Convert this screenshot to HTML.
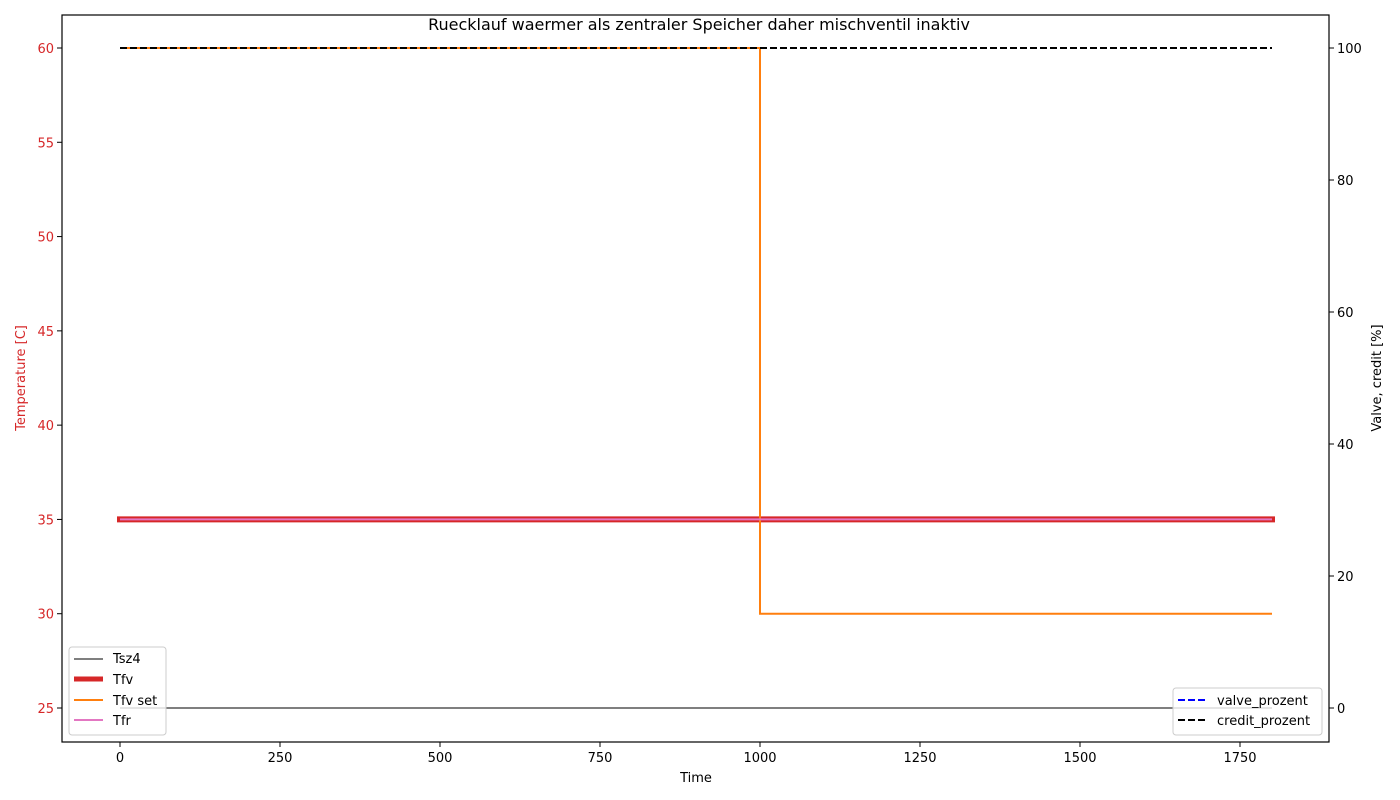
<!DOCTYPE html>
<html><head><meta charset="utf-8"><style>
html,body{margin:0;padding:0;background:#fff;}
svg{display:block;font-family:"DejaVu Sans","Liberation Sans",sans-serif;}
</style></head><body>
<svg id="chart" width="1400" height="800" viewBox="0 0 1400 800"></svg>
<script>
const timeSteps = [0, 1000, 1000, 1800];
const tsz4 = [25, 25, 25, 25];
const tfv = [35, 35, 35, 35];
const tfvSet = [60, 60, 30, 30];
const tfr = [35, 35, 35, 35];
const valvePct = [100, 100, 100, 100];
const creditPct = [100, 100, 100, 100];
const xTicks = [0, 250, 500, 750, 1000, 1250, 1500, 1750];
const yLeftTicks = [25, 30, 35, 40, 45, 50, 55, 60];
const yRightTicks = [0, 20, 40, 60, 80, 100];

const L = 62, R = 1329, T = 15, B = 742;
const sx = v => 120 + v * (1120 / 1750);
const syL = v => 708 - (v - 25) * (660 / 35);
const syR = v => 708 - v * 6.6;
const NS = "http://www.w3.org/2000/svg";
const svg = document.getElementById("chart");
function mk(tag, attrs, parent) {
  const e = document.createElementNS(NS, tag);
  for (const k in attrs) e.setAttribute(k, attrs[k]);
  (parent || svg).appendChild(e);
  return e;
}
function txt(s, attrs) { const e = mk("text", attrs); e.textContent = s; return e; }
function line(xs, ys, fy, style, name) {
  const pts = xs.map((x, i) => sx(x) + "," + fy(ys[i])).join(" ");
  const p = mk("polyline", Object.assign({points: pts, fill: "none"}, style));
  
  
}

line(timeSteps, tsz4, syL, {stroke: "#7f7f7f", "stroke-width": 2}, "tsz4-line");
line(timeSteps, tfv, syL, {stroke: "#d62728", "stroke-width": 6, "stroke-linecap": "square"}, "tfv-line");
line(timeSteps, tfvSet, syL, {stroke: "#ff7f0e", "stroke-width": 2}, "tfv-set-line");
line(timeSteps, tfr, syL, {stroke: "#e377c2", "stroke-width": 2}, "tfr-line");
line(timeSteps, valvePct, syR, {stroke: "#0000ff", "stroke-width": 2, "stroke-dasharray": "7,3"}, "valve-prozent-line");
line(timeSteps, creditPct, syR, {stroke: "#000", "stroke-width": 2, "stroke-dasharray": "7,3"}, "credit-prozent-line");

const fr = mk("rect", {x: L, y: T, width: R - L, height: B - T, fill: "none", stroke: "#000", "stroke-width": 1.2});



xTicks.forEach(v => {
  const x = sx(v);
  mk("line", {x1: x, x2: x, y1: B, y2: B + 5, stroke: "#000"});
  const t = txt(String(v), {x: x, y: B + 20, "text-anchor": "middle", "font-size": 13, fill: "#000"});
  
  
});
yLeftTicks.forEach(v => {
  const y = syL(v);
  mk("line", {x1: L - 5, x2: L, y1: y, y2: y, stroke: "#000"});
  const t = txt(String(v), {x: L - 8, y: y + 5, "text-anchor": "end", "font-size": 13, fill: "#d62728"});
  
  
});
yRightTicks.forEach(v => {
  const y = syR(v);
  mk("line", {x1: R, x2: R + 5, y1: y, y2: y, stroke: "#000"});
  const t = txt(String(v), {x: R + 8, y: y + 5, "text-anchor": "start", "font-size": 13, fill: "#000"});
  
  
});
</script>
<svg style="position:absolute;left:0;top:0" width="1400" height="800">
  <text x="699" y="30" text-anchor="middle" font-size="16" fill="#000">Ruecklauf waermer als zentraler Speicher daher mischventil inaktiv</text>
  <text x="696" y="782" text-anchor="middle" font-size="13" fill="#000">Time</text>
  <text x="25" y="378" text-anchor="middle" font-size="13" fill="#d62728" transform="rotate(-90 25 378)">Temperature [C]</text>
  <text x="1381" y="378" text-anchor="middle" font-size="13" fill="#000" transform="rotate(-90 1381 378)">Valve, credit [%]</text>
  <g>
    <rect x="69" y="647" width="97" height="88" rx="3" fill="#fff" fill-opacity="0.8" stroke="#ccc"/>
    <line x1="74" x2="103" y1="659" y2="659" stroke="#7f7f7f" stroke-width="2"/>
    <text x="113" y="663" font-size="13">Tsz4</text>
    <line x1="74" x2="103" y1="679" y2="679" stroke="#d62728" stroke-width="5"/>
    <text x="113" y="684" font-size="13">Tfv</text>
    <line x1="74" x2="103" y1="700" y2="700" stroke="#ff7f0e" stroke-width="2"/>
    <text x="113" y="705" font-size="13">Tfv set</text>
    <line x1="74" x2="103" y1="720" y2="720" stroke="#e377c2" stroke-width="2"/>
    <text x="113" y="725" font-size="13">Tfr</text>
  </g>
  <g>
    <rect x="1173" y="688" width="149" height="47" rx="3" fill="#fff" fill-opacity="0.8" stroke="#ccc"/>
    <line x1="1178" x2="1207" y1="700" y2="700" stroke="#0000ff" stroke-width="2" stroke-dasharray="7,3"/>
    <text x="1217" y="705" font-size="13">valve_prozent</text>
    <line x1="1178" x2="1207" y1="720" y2="720" stroke="#000" stroke-width="2" stroke-dasharray="7,3"/>
    <text x="1217" y="725" font-size="13">credit_prozent</text>
  </g>
</svg>
</body></html>
